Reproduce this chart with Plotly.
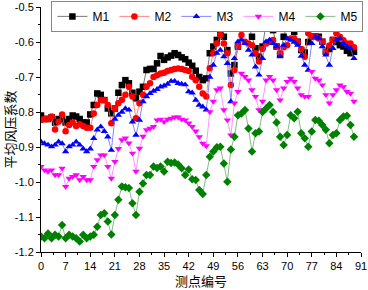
import plotly.graph_objects as go

point_ids = list(range(90))

M1 = [-0.81, -0.82, -0.82, -0.815, -0.83, -0.82, -0.82, -0.83, -0.82, -0.81,
      -0.813, -0.82, -0.83, -0.83, -0.807, -0.78, -0.747, -0.751, -0.766, -0.79,
      -0.804, -0.79, -0.745, -0.723, -0.709, -0.718, -0.745, -0.761, -0.742, -0.728,
      -0.68, -0.677, -0.677, -0.661, -0.64, -0.651, -0.644, -0.639, -0.632, -0.637,
      -0.644, -0.649, -0.659, -0.668, -0.682, -0.70, -0.709, -0.704, -0.632, -0.613,
      -0.594, -0.575, -0.585, -0.623, -0.69, -0.666, -0.613, -0.556, -0.545, -0.55,
      -0.585, -0.618, -0.642, -0.613, -0.547, -0.551, -0.566, -0.613, -0.635, -0.585,
      -0.551, -0.561, -0.571, -0.599, -0.623, -0.63, -0.60, -0.585, -0.585, -0.585,
      -0.599, -0.628, -0.62, -0.594, -0.60, -0.609, -0.613, -0.625, -0.632, -0.628]

M2 = [-0.823, -0.82, -0.82, -0.813, -0.85, -0.828, -0.807, -0.855, -0.837, -0.83,
      -0.84, -0.835, -0.84, -0.845, -0.845, -0.804, -0.78, -0.766, -0.766, -0.78,
      -0.832, -0.79, -0.775, -0.765, -0.751, -0.728, -0.756, -0.818, -0.775, -0.751,
      -0.728, -0.718, -0.70, -0.695, -0.69, -0.688, -0.683, -0.68, -0.677, -0.676,
      -0.677, -0.68, -0.683, -0.699, -0.709, -0.728, -0.747, -0.756, -0.675, -0.632,
      -0.604, -0.58, -0.604, -0.632, -0.723, -0.68, -0.613, -0.58, -0.599, -0.604,
      -0.609, -0.632, -0.656, -0.62, -0.604, -0.599, -0.594, -0.613, -0.632, -0.615,
      -0.609, -0.59, -0.59, -0.60, -0.62, -0.642, -0.575, -0.585, -0.585, -0.59,
      -0.599, -0.63, -0.61, -0.594, -0.575, -0.585, -0.595, -0.604, -0.604, -0.615]

M3 = [-0.885, -0.89, -0.894, -0.899, -0.894, -0.885, -0.89, -0.913, -0.899, -0.894,
      -0.885, -0.894, -0.905, -0.913, -0.905, -0.875, -0.851, -0.842, -0.855, -0.871,
      -0.909, -0.82, -0.809, -0.80, -0.79, -0.794, -0.828, -0.866, -0.823, -0.77,
      -0.756, -0.747, -0.74, -0.735, -0.728, -0.725, -0.72, -0.712, -0.712, -0.718,
      -0.72, -0.722, -0.742, -0.745, -0.766, -0.78, -0.785, -0.794, -0.70, -0.666,
      -0.632, -0.623, -0.642, -0.661, -0.77, -0.647, -0.599, -0.594, -0.604, -0.623,
      -0.637, -0.671, -0.694, -0.647, -0.599, -0.594, -0.604, -0.613, -0.642, -0.609,
      -0.59, -0.594, -0.60, -0.609, -0.64, -0.666, -0.68, -0.604, -0.585, -0.59,
      -0.613, -0.637, -0.666, -0.618, -0.594, -0.59, -0.604, -0.613, -0.618, -0.647]

M4 = [-0.956, -0.966, -0.97, -0.966, -0.98, -0.98, -0.961, -1.013, -0.99, -0.985,
      -0.98, -0.994, -0.985, -0.994, -0.994, -0.956, -0.937, -0.923, -0.923, -0.956,
      -0.99, -0.942, -0.905, -0.88, -0.875, -0.889, -0.918, -0.97, -0.904, -0.87,
      -0.851, -0.847, -0.842, -0.823, -0.821, -0.828, -0.821, -0.818, -0.815, -0.815,
      -0.821, -0.823, -0.832, -0.842, -0.855, -0.871, -0.89, -0.897, -0.80, -0.77,
      -0.737, -0.732, -0.794, -0.823, -0.866, -0.775, -0.742, -0.69, -0.699, -0.709,
      -0.737, -0.756, -0.794, -0.77, -0.709, -0.699, -0.709, -0.737, -0.766, -0.732,
      -0.713, -0.704, -0.713, -0.732, -0.751, -0.756, -0.756, -0.685, -0.704, -0.709,
      -0.723, -0.751, -0.775, -0.751, -0.737, -0.723, -0.728, -0.742, -0.747, -0.77]

M5 = [-1.156, -1.161, -1.147, -1.161, -1.151, -1.156, -1.123, -1.161, -1.151, -1.156,
      -1.161, -1.17, -1.151, -1.161, -1.156, -1.151, -1.128, -1.094, -1.089, -1.113,
      -1.15, -1.094, -1.051, -1.013, -1.015, -1.017, -1.061, -1.094, -1.028, -1.004,
      -0.98, -0.98, -0.956, -0.96, -0.956, -0.97, -0.942, -0.946, -0.944, -0.95,
      -0.961, -0.98, -0.964, -0.992, -0.994, -1.023, -1.034, -0.98, -0.928, -0.913,
      -0.901, -0.899, -0.947, -0.999, -0.907, -0.871, -0.809, -0.804, -0.794, -0.847,
      -0.913, -0.861, -0.856, -0.80, -0.79, -0.78, -0.80, -0.83, -0.871, -0.894,
      -0.866, -0.809, -0.818, -0.799, -0.861, -0.875, -0.899, -0.856, -0.823, -0.825,
      -0.837, -0.851, -0.889, -0.866, -0.861, -0.823, -0.813, -0.811, -0.837, -0.871]

series_names = ["M1", "M2", "M3", "M4", "M5"]
x_tick_vals = [0, 7, 14, 21, 28, 35, 42, 49, 56, 63, 70, 77, 84, 91]
y_tick_vals = [-0.5, -0.6, -0.7, -0.8, -0.9, -1.0, -1.1, -1.2]
y_tick_text = ["-0.5", "-0.6", "-0.7", "-0.8", "-0.9", "-1.0", "-1.1", "-1.2"]

styles = [
    ("#000000", "square"),
    ("#ff0000", "circle"),
    ("#0000ff", "triangle-up"),
    ("#ff00ff", "triangle-down"),
    ("#008000", "diamond"),
]
line_colors = ["#555555", "#ff6666", "#6666ff", "#ff77ff", "#66aa66"]

fig = go.Figure()
for name, vals, (col, sym), lc in zip(series_names, [M1, M2, M3, M4, M5], styles, line_colors):
    fig.add_trace(go.Scatter(
        x=point_ids, y=vals, name=name, mode="lines+markers",
        line=dict(color=lc, width=0.8),
        marker=dict(color=col, symbol=sym, size=6.5, line=dict(width=0)),
    ))

axis_font = dict(family="Liberation Sans, Arial, sans-serif", size=11, color="#000000")
title_font = dict(family="Noto Sans CJK SC, sans-serif", size=13, color="#000000")

fig.update_layout(
    width=368, height=290,
    margin=dict(l=41, r=7, t=7, b=38, autoexpand=False),
    paper_bgcolor="white", plot_bgcolor="white",
    showlegend=True,
    legend=dict(
        orientation="h", x=0.52, xanchor="center", y=1.025, yanchor="top",
        bordercolor="#888888", borderwidth=1, bgcolor="white",
        font=dict(family="Liberation Sans, Arial, sans-serif", size=12, color="#000000"),
        itemwidth=30, entrywidth=17, tracegroupgap=0,
    ),
    xaxis=dict(
        range=[0, 91], tickvals=x_tick_vals, showgrid=False, zeroline=False,
        showline=True, linecolor="black", linewidth=1, mirror=False,
        ticks="outside", ticklen=4, tickcolor="black", tickfont=axis_font,
        ticklabeloverflow="allow", automargin=False,
        minor=dict(ticks="outside", ticklen=2, dtick=3.5, tick0=0, tickcolor="black", showgrid=False),
        title=dict(text="测点编号", font=title_font, standoff=2),
    ),
    yaxis=dict(
        range=[-1.2, -0.5], tickvals=y_tick_vals, ticktext=y_tick_text, showgrid=False, zeroline=False,
        showline=True, linecolor="black", linewidth=1, mirror=False,
        ticks="outside", ticklen=4, tickcolor="black", tickfont=axis_font,
        ticklabeloverflow="allow", automargin=False,
        minor=dict(ticks="outside", ticklen=2, dtick=0.05, tick0=-1.2, tickcolor="black", showgrid=False),
        title=dict(text="平均风压系数", font=title_font, standoff=2),
    ),
)

fig.write_html(
    "out.html",
    config={"displayModeBar": False},
    post_script="document.body.style.margin='0';document.body.style.padding='0';",
)
